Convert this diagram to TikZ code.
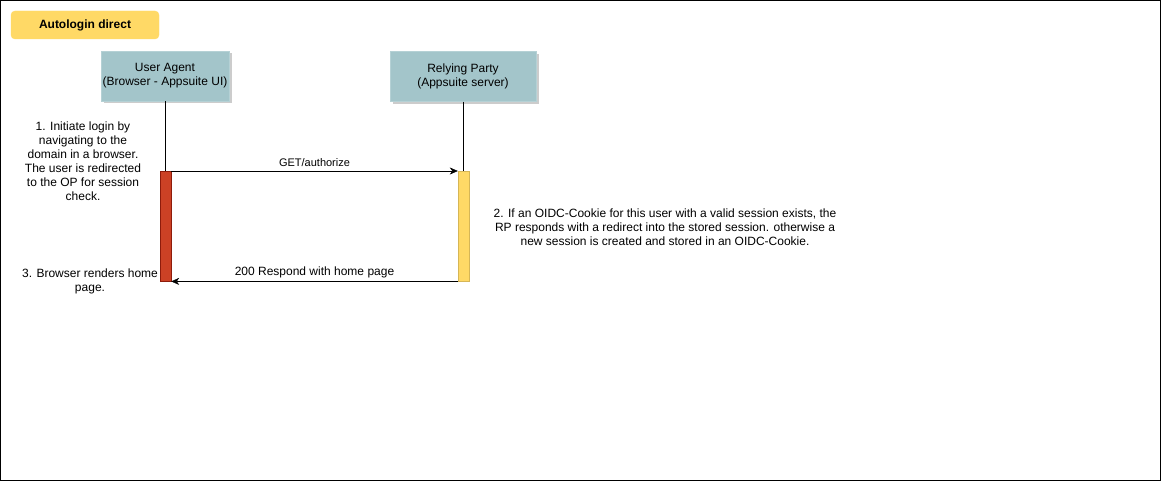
\documentclass[tikz,border=0pt]{standalone}
\usepackage{fontspec}
\setmainfont{Liberation Sans}
\usetikzlibrary{arrows.meta,shadows}
\definecolor{partyfill}{HTML}{A3C5CA}
\definecolor{titlefill}{HTML}{FFD966}
\definecolor{redfill}{HTML}{CC4125}
\definecolor{reddraw}{HTML}{8E1B0B}
\definecolor{yellowdraw}{HTML}{D6B656}
\tikzset{
  titlebox/.style={fill=titlefill, draw=titlefill, rounded corners=4pt,
    minimum width=148pt, minimum height=28pt,
    font=\fontsize{12}{14}\selectfont\bfseries},
  party/.style={fill=partyfill, draw=partyfill!80!white, align=center,
    minimum height=50pt, inner sep=0pt,
    drop shadow={shadow xshift=2.5pt, shadow yshift=-2.5pt, fill=black!20, opacity=1}},
  actbar/.style={draw, minimum width=11pt, minimum height=110pt,
    inner sep=0pt, anchor=north},
  msg/.style={-{Stealth[length=8pt,width=7pt,inset=2.5pt]}},
  note/.style={align=center}
}

\begin{document}
\begin{tikzpicture}[x=1pt,y=-1pt,font=\fontsize{12}{14}\selectfont]
    \useasboundingbox (0,0) rectangle (1161,481);
    % frame
    \draw (0.5,0.5) rectangle (1160,480);

    % title
    \node[titlebox] (title) at (85,25) {Autologin direct};

    % participants
    \node[party, minimum width=128pt] (ua) at (165,76) {User Agent\\(Browser - Appsuite UI)};
    \node[party, minimum width=146pt] (rp) at (463,76.5) {Relying Party\\(Appsuite server)};

    % activation bars
    \node[actbar, fill=redfill, draw=reddraw] (uaact) at (165.5,171) {};
    \node[actbar, fill=titlefill, draw=yellowdraw] (rpact) at (463.5,171) {};

    % lifelines
    \draw (ua.south -| uaact.north) -- (uaact.north);
    \draw (rp.south -| rpact.north) -- (rpact.north);

    % messages
    \draw[msg] (uaact.north east) -- node[above=1pt, font=\fontsize{11}{13}\selectfont] {GET/authorize} (rpact.north west);
    \draw[msg] (rpact.south west) -- node[above] {200 Respond with home page} (uaact.south east);

    % notes
    \node[note] (step1) at (83,161) {1. Initiate login by\\navigating to the\\domain in a browser.\\The user is redirected\\to the OP for session\\check.};
    \node[note] (step2) at (665,227) {2. If an OIDC-Cookie for this user with a valid session exists, the\\RP responds with a redirect into the stored session. otherwise a\\new session is created and stored in an OIDC-Cookie.};
    \node[note] (step3) at (90,281) {3. Browser renders home\\page.};
\end{tikzpicture}
\end{document}
